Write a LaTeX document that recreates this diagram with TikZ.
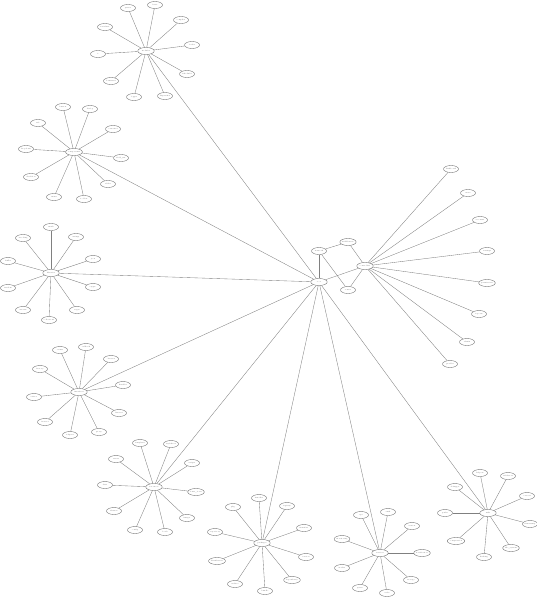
\documentclass[tikz,border=0pt]{standalone}
\usetikzlibrary{shapes.geometric}
\begin{document}
\begin{tikzpicture}[x=1pt,y=-1pt,
  leaf/.style={ellipse,draw=black!55,line width=0.4pt,minimum width=15pt,minimum height=7pt,inner sep=0pt,font=\fontsize{1.7}{2}\selectfont,text=black!70},
  hubnode/.style={leaf,minimum width=16.5pt},
  link/.style={draw=black!50,line width=0.35pt}]
\useasboundingbox (0,0) rectangle (537,599);
% root and hubs
\node[hubnode] (root) at (319,282) {root};
\node[hubnode] (h1) at (146,51) {modules};
\node[hubnode] (h2) at (74,152) {components};
\node[hubnode] (h3) at (51,273) {libraries};
\node[hubnode] (h4) at (79,392) {interfaces};
\node[hubnode] (h5) at (154,487) {resources};
\node[hubnode] (h6) at (262,543) {packages};
\node[hubnode] (h7) at (380,553) {services};
\node[hubnode] (h8) at (488,513) {utils};
\node[hubnode] (h9) at (365,266) {controllers};
\node[leaf] (na) at (319,251) {network};
\node[leaf] (nb) at (348,242) {middleware};
\node[leaf] (nc) at (348,290) {router};
% hub edges
\foreach \h in {h1,h2,h3,h4,h5,h6,h7,h8,h9,na} \draw[link] (root) -- (\h);
\draw[link] (na) -- (nb);
\draw[link] (nb) -- (h9);
\draw[link] (na) -- (nc);
\draw[link] (nc) -- (h9);
% cluster 1
\foreach \i/\x/\y/\t in {1/128/8/parser,2/155/5/lexer,3/181/20/compiler,4/192/45/loader,5/187/74/scheduler,6/165/96/dispatcher,7/134/97/logger,8/111/81/formatter,9/98/54/io,10/105/27/serializer}
  {\node[leaf] (a\i) at (\x,\y) {\t}; \draw[link] (h1) -- (a\i);}
% cluster 2
\foreach \i/\x/\y/\t in {1/63/107/button,2/90/109/dialog,3/113/129/container,4/121/158/field\_txt,5/108/184/slider,6/84/199/toolbar,7/54/197/menu,8/31/177/checkbox,9/26/149/dropdown,10/38/123/tab}
  {\node[leaf] (b\i) at (\x,\y) {\t}; \draw[link] (h2) -- (b\i);}
% cluster 3
\foreach \i/\x/\y/\t in {1/51/227/math,2/76/237/strings,3/93/259/json,4/93/287/crypto,5/77/310/regex,6/49/320/collections,7/23/310/stream,8/8/288/random,9/8/261/buffer,10/23/238/encoding}
  {\node[leaf] (c\i) at (\x,\y) {\t}; \draw[link] (h3) -- (c\i);}
% cluster 4
\foreach \i/\x/\y/\t in {1/60/350/events,2/86/347/callback,3/111/359/observer,4/123/385/handler,5/119/413/listener,6/99/432/proxy,7/70/435/adapter,8/45/422/iterator,9/34/397/visitor,10/40/369/factory}
  {\node[leaf] (d\i) at (\x,\y) {\t}; \draw[link] (h4) -- (d\i);}
% cluster 5
\foreach \i/\x/\y/\t in {1/140/443/templates,2/171/444/stylesheet,3/192/463/scripts,4/196/492/fonts\_icons,5/187/518/images,6/165/532/locale,7/135/530/config,8/114/511/themes,9/105/485/data,10/116/459/assets}
  {\node[leaf] (e\i) at (\x,\y) {\t}; \draw[link] (h5) -- (e\i);}
% cluster 6
\foreach \i/\x/\y/\t in {1/259/498/installer,2/287/506/registry,3/304/528/manifest,4/306/557/version,5/292/580/dependency,6/265/591/bundle,7/235/584/archive,8/217/561/distribution,9/215/532/repository,10/233/507/pkg}
  {\node[leaf] (f\i) at (\x,\y) {\t}; \draw[link] (h6) -- (f\i);}
% cluster 7
\foreach \i/\x/\y/\t in {1/361/515/api,2/388/512/auth,3/412/526/session,4/422/553/notification,5/411/580/storage,6/387/593/cache,7/360/588/queue,8/342/568/worker,9/342/539/monitoring}
  {\node[leaf] (g\i) at (\x,\y) {\t}; \draw[link] (h7) -- (g\i);}
% cluster 8
\foreach \i/\x/\y/\t in {1/480/473/helpers,2/508/476/validators,3/527/496/convert,4/530/524/timestamp,5/511/548/file\_system,6/484/557/hashing,7/456/541/compression,8/445/513/paths,9/455/487/debugger}
  {\node[leaf] (k\i) at (\x,\y) {\t}; \draw[link] (h8) -- (k\i);}
% cluster 9
\foreach \i/\x/\y/\t in {1/451/169/dashboard,2/468/193/users,3/480/220/accounts,4/487/251/settings,5/487/283/permissions,6/479/314/reports,7/467/342/admin,8/450/364/profiles}
  {\node[leaf] (m\i) at (\x,\y) {\t}; \draw[link] (h9) -- (m\i);}
\end{tikzpicture}
\end{document}
